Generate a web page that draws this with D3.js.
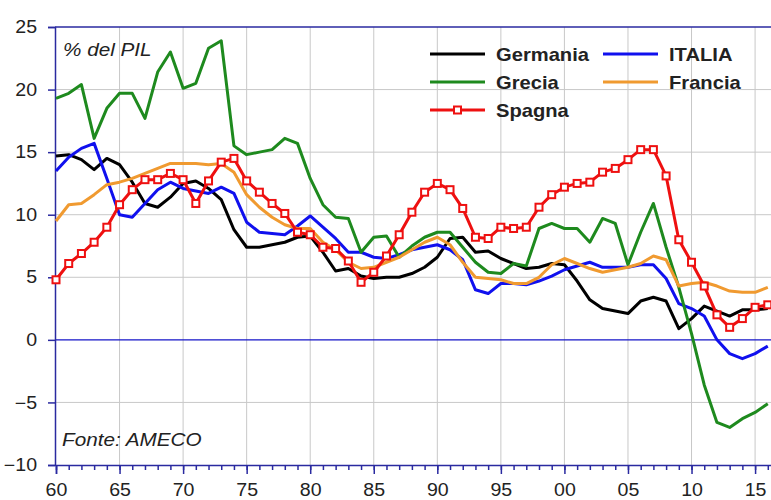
<!DOCTYPE html>
<html><head><meta charset="utf-8">
<script src="https://cdn.jsdelivr.net/npm/d3@7"></script>
<style>body{margin:0;background:#fff}svg{display:block}text{font-family:"Liberation Sans",Arial,sans-serif}</style>
</head><body><svg id="c" width="771" height="500"></svg>
<script>
const years = d3.range(1960, 2017);
const germania = [14.7,14.8,14.4,13.6,14.5,14.0,12.6,10.9,10.6,11.4,12.5,12.7,12.1,11.2,8.8,7.4,7.4,7.6,7.8,8.2,8.3,7.0,5.5,5.7,5.1,4.9,5.0,5.0,5.3,5.8,6.6,8.1,8.2,7.0,7.1,6.5,6.1,5.7,5.8,6.1,6.0,4.7,3.2,2.5,2.3,2.1,3.1,3.4,3.1,0.9,1.7,2.7,2.3,1.9,2.4,2.4,2.5];
const italia = [13.5,14.6,15.3,15.7,12.9,10.0,9.8,10.9,12.0,12.6,12.1,11.9,11.7,12.2,11.7,9.4,8.6,8.5,8.4,9.1,9.9,9.0,8.1,7.0,7.0,6.6,6.5,6.8,7.2,7.4,7.6,7.2,6.4,4.0,3.7,4.5,4.5,4.4,4.7,5.1,5.6,5.9,6.2,5.8,5.8,5.8,6.0,6.0,4.9,2.9,2.5,1.9,0.0,-1.1,-1.5,-1.1,-0.5];
const grecia = [19.3,19.7,20.4,16.1,18.5,19.7,19.7,17.7,21.4,23.0,20.1,20.5,23.3,23.9,15.5,14.8,15.0,15.2,16.1,15.7,12.9,10.8,9.8,9.7,7.0,8.2,8.3,6.6,7.5,8.2,8.6,8.6,7.4,6.2,5.4,5.3,6.1,5.9,8.9,9.3,8.9,8.9,7.8,9.7,9.3,6.0,8.6,10.9,7.4,4.2,0.5,-3.6,-6.6,-7.0,-6.3,-5.8,-5.1];
const francia = [9.5,10.8,10.9,11.6,12.4,12.6,12.9,13.3,13.7,14.1,14.1,14.1,14.0,14.1,13.4,11.6,10.6,9.8,9.2,8.9,8.9,7.8,7.2,6.2,5.7,5.8,6.2,6.6,7.2,7.8,8.2,7.6,6.2,5.0,4.9,4.8,4.5,4.5,5.0,6.0,6.5,6.1,5.7,5.4,5.6,5.8,6.1,6.7,6.4,4.3,4.5,4.6,4.3,3.9,3.8,3.8,4.2];
const spagna = [4.8,6.1,6.9,7.8,9.0,10.8,12.0,12.8,12.8,13.3,12.8,10.9,12.7,14.2,14.5,12.7,11.8,10.9,10.1,8.6,8.4,7.4,7.3,6.3,4.6,5.4,6.7,8.4,10.2,11.8,12.5,12.0,10.5,8.2,8.1,9.0,8.9,9.0,10.6,11.6,12.2,12.5,12.6,13.4,13.7,14.4,15.2,15.2,13.1,8.0,6.2,4.3,2.0,1.0,1.7,2.6,2.8];
const seriesNames = ["Germania","ITALIA","Grecia","Francia","Spagna"];
const seriesColors = ["#000000","#1010ee","#1e8a1e","#f09a30","#ee1010"];
const seriesData = [germania, italia, grecia, francia, spagna];
const xTickYears = [1960,1965,1970,1975,1980,1985,1990,1995,2000,2005,2010,2015];
const xTickLabels = ["60","65","70","75","80","85","90","95","00","05","10","15"];
const yTicks = [-10,-5,0,5,10,15,20,25];
const unitLabel = "% del PIL";
const sourceLabel = "Fonte: AMECO";

const svg = d3.select("#c");
const SX = 1.12;
const axisColor = "#2a2aa0";
const x = d3.scaleLinear().domain([1960, 2017]).range([56, 780.5]);
const y = d3.scaleLinear().domain([-10, 25]).range([465, 27]);
const pLeft = 55, pTop = 27, pBottom = 465, pRight = 790;

// grid
const grid = svg.append("g");
grid.selectAll("line.v").data(xTickYears.slice(1)).join("line")
  .attr("x1", d => x(d)).attr("x2", d => x(d)).attr("y1", pTop).attr("y2", pBottom)
  .attr("stroke", "#c8c8c8").attr("stroke-width", 1);
grid.selectAll("line.h").data(yTicks.filter(d => d !== 0 && d !== -10 && d !== 25)).join("line")
  .attr("x1", pLeft).attr("x2", pRight).attr("y1", d => y(d)).attr("y2", d => y(d))
  .attr("stroke", "#c8c8c8").attr("stroke-width", 1);
// zero line
svg.append("line").attr("x1", pLeft).attr("x2", pRight).attr("y1", y(0)).attr("y2", y(0))
  .attr("stroke", "#1515c8").attr("stroke-width", 1.4);
// frame top
svg.append("line").attr("x1", pLeft).attr("x2", pRight).attr("y1", pTop).attr("y2", pTop)
  .attr("stroke", axisColor).attr("stroke-width", 1.5);

// y axis
const yAxis = svg.append("g").attr("transform", `translate(${pLeft},0)`)
  .call(d3.axisLeft(y).tickValues(yTicks).tickSize(7).tickPadding(9).tickFormat(d3.format("d")));
yAxis.select(".domain").attr("stroke", axisColor).attr("stroke-width", 1.5);
yAxis.selectAll(".tick line").attr("stroke", axisColor).attr("stroke-width", 1.5);
yAxis.selectAll(".tick text").attr("font-size", 17.5).attr("fill", "#222")
  .attr("transform", `scale(${SX},1)`).attr("font-family", "Liberation Sans, Arial, sans-serif");

// x axis minor
const xAxisMinor = svg.append("g").attr("transform", `translate(0,${pBottom})`)
  .call(d3.axisBottom(x).tickValues(d3.range(1960, 2018)).tickSize(5).tickFormat(""));
xAxisMinor.select(".domain").remove();
xAxisMinor.selectAll(".tick line").attr("stroke", axisColor).attr("stroke-width", 1.5);
const xAxis = svg.append("g").attr("transform", `translate(0,${pBottom})`)
  .call(d3.axisBottom(x).tickValues(xTickYears).tickSize(9).tickPadding(10)
    .tickFormat((d, i) => xTickLabels[i]));
xAxis.select(".domain").attr("stroke", axisColor).attr("stroke-width", 1.5);
xAxis.selectAll(".tick line").attr("stroke", axisColor).attr("stroke-width", 1.5);
xAxis.selectAll(".tick text").attr("font-size", 17.5).attr("fill", "#222")
  .attr("transform", `scale(${SX},1)`).attr("font-family", "Liberation Sans, Arial, sans-serif");

// lines
const line = d3.line().x((d, i) => x(years[i])).y(d => y(d));
seriesData.forEach((data, k) => {
  svg.append("path").datum(data).attr("d", line).attr("fill", "none")
    .attr("stroke", seriesColors[k]).attr("stroke-width", 3).attr("stroke-linejoin", "round");
});
// Spagna markers
svg.append("g").selectAll("rect").data(spagna).join("rect")
  .attr("x", (d, i) => x(years[i]) - 3.5).attr("y", d => y(d) - 3.5)
  .attr("width", 7).attr("height", 7).attr("fill", "#fff")
  .attr("stroke", seriesColors[4]).attr("stroke-width", 2);

// legend
const legPos = [[430, 54], [603, 54], [430, 82], [603, 82], [430, 110]];
const leg = svg.append("g");
seriesNames.forEach((name, k) => {
  const [lx, ly] = legPos[k];
  leg.append("line").attr("x1", lx).attr("x2", lx + 55).attr("y1", ly).attr("y2", ly)
    .attr("stroke", seriesColors[k]).attr("stroke-width", 3);
  if (k === 4) {
    leg.append("rect").attr("x", lx + 27.5 - 3.5).attr("y", ly - 3.5).attr("width", 7).attr("height", 7)
      .attr("fill", "#fff").attr("stroke", seriesColors[k]).attr("stroke-width", 2);
  }
  leg.append("text").attr("transform", `translate(${lx + 66},${ly + 7}) scale(${SX},1)`)
    .attr("font-size", 18).attr("font-weight", "bold").attr("fill", "#222").text(name);
});

svg.append("text").attr("transform", `translate(63,56) scale(${SX},1)`)
  .attr("font-size", 18.5).attr("font-style", "italic").attr("fill", "#222").text(unitLabel);
svg.append("text").attr("transform", `translate(62,446) scale(${SX},1)`)
  .attr("font-size", 18.5).attr("font-style", "italic").attr("fill", "#222").text(sourceLabel);
</script></body></html>
